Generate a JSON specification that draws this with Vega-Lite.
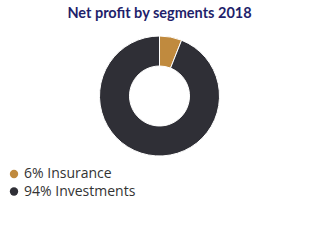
{
  "$schema": "https://vega.github.io/schema/vega-lite/v6.json",
  "autosize": "none",
  "width": 319,
  "height": 122,
  "padding": {"top": 35, "left": 0, "right": 0, "bottom": 93},
  "background": "white",
  "title": {
    "text": "Net profit by segments 2018",
    "font": "Lato",
    "fontSize": 14.5,
    "fontWeight": "bold",
    "color": "#1f1f6b",
    "anchor": "middle",
    "offset": 13
  },
  "data": {
    "values": [
      {"segment": "Insurance", "share": 6, "label": "6% Insurance"},
      {"segment": "Investments", "share": 94, "label": "94% Investments"}
    ]
  },
  "mark": {"type": "arc", "outerRadius": 60, "innerRadius": 30, "stroke": "white", "strokeWidth": 1},
  "encoding": {
    "theta": {"field": "share", "type": "quantitative", "stack": true},
    "order": {"field": "label", "type": "nominal"},
    "color": {
      "field": "label",
      "type": "nominal",
      "scale": {"domain": ["6% Insurance", "94% Investments"], "range": ["#c08a3e", "#2f2f36"]},
      "legend": {
        "title": null,
        "orient": "none",
        "legendX": 7,
        "legendY": 132,
        "symbolType": "circle",
        "symbolSize": 70,
        "symbolStrokeWidth": 0,
        "labelFont": "Open Sans",
        "labelFontSize": 14,
        "labelColor": "#333333",
        "labelOffset": 3,
        "rowPadding": 3.5
      }
    }
  }
}
